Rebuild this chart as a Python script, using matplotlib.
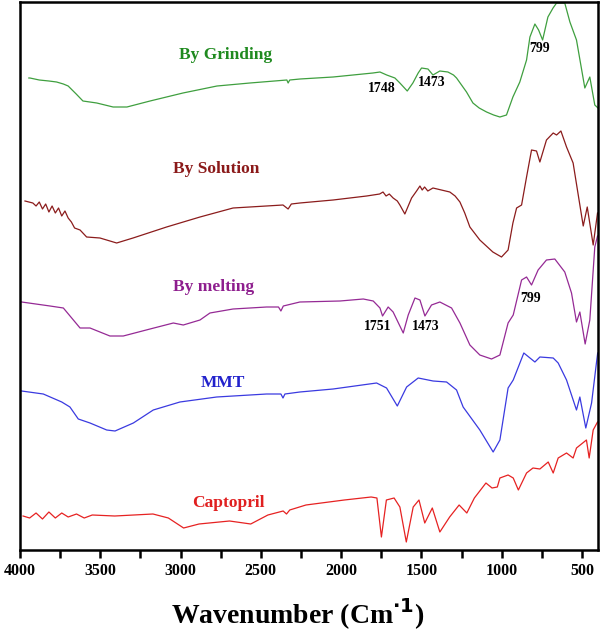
import matplotlib
matplotlib.use("Agg")
import matplotlib.pyplot as plt

# ---- data (wavenumber cm^-1, transmittance in arbitrary stacked units) ----
grind_w = [3945, 3938, 3880, 3820, 3772, 3730, 3700, 3650, 3608, 3522, 3420, 3334, 3190, 2985, 2773, 2568,
           2338, 2330, 2320, 2256, 2050, 1802, 1758, 1716, 1665, 1634, 1588, 1553, 1520, 1499, 1459, 1428,
           1385, 1335, 1300, 1281, 1250, 1219, 1179, 1140, 1094, 1050, 1011, 970, 930, 887, 845, 824, 793,
           770, 745, 712, 680, 658, 607, 575, 534, 482, 451, 420, 400]
grind_t = [470, 470, 468, 467, 466, 464, 462, 454, 447, 445, 441, 441, 447, 455, 462, 465,
           468, 465, 468, 469, 471, 475, 476, 473, 470, 465, 457, 465, 475, 480, 479, 473,
           477, 476, 473, 470, 463, 456, 445, 440, 436, 433, 431, 433, 451, 466, 488, 511, 524,
           518, 508, 531, 540, 545, 545, 526, 508, 460, 471, 443, 440]

sol_w = [3969, 3920, 3900, 3880, 3860, 3840, 3820, 3800, 3780, 3760, 3740, 3720, 3700, 3680, 3660, 3626, 3585,
         3502, 3398, 3296, 3087, 2879, 2673, 2362, 2330, 2310, 2257, 2050, 1841, 1760, 1739, 1720, 1700, 1676,
         1650, 1634, 1603, 1561, 1530, 1509, 1495, 1480, 1460, 1428, 1323, 1290, 1260, 1230, 1198, 1136, 1055,
         1001, 960, 930, 907, 876, 845, 814, 783, 762, 721, 679, 658, 631, 596, 555, 492, 467, 430, 403]
sol_t = [347, 345, 342, 346, 339, 344, 336, 342, 335, 340, 332, 337, 330, 326, 320, 318, 311,
         310, 305, 310, 321, 331, 340, 343, 339, 344, 345, 348, 352, 354, 356, 352, 354, 350,
         347, 343, 334, 350, 357, 362, 358, 361, 357, 360, 356, 352, 346, 335, 321, 308, 296,
         291, 298, 325, 340, 343, 371, 398, 397, 386, 408, 415, 413, 417, 401, 385, 322, 341, 303, 335]

melt_w = [3990, 3813, 3730, 3678, 3626, 3564, 3440, 3357, 3190, 3045, 2983, 2879, 2817, 2673, 2464, 2390,
          2375, 2360, 2257, 2007, 1862, 1800, 1758, 1742, 1707, 1676, 1613, 1582, 1540, 1509, 1478, 1437,
          1385, 1312, 1260, 1198, 1136, 1063, 1011, 960, 928, 876, 845, 814, 773, 721, 669, 607, 565,
          534, 513, 480, 451, 420, 403]
melt_t = [246, 242, 240, 230, 220, 220, 212, 212, 219, 225, 223, 228, 235, 239, 241, 241,
          237, 242, 246, 247, 249, 247, 240, 232, 241, 236, 215, 233, 250, 248, 232, 243,
          246, 240, 225, 203, 193, 189, 193, 225, 233, 268, 271, 263, 278, 288, 289, 276, 255,
          226, 236, 204, 228, 301, 312]

mmt_w = [3990, 3855, 3740, 3689, 3637, 3564, 3460, 3408, 3294, 3170, 3004, 2775, 2464, 2375, 2362, 2350,
         2257, 2050, 1779, 1717, 1650, 1592, 1520, 1427, 1343, 1281, 1240, 1136, 1053, 1011, 960, 928,
         862, 793, 762, 679, 648, 596, 534, 513, 476, 440, 409, 402]
mmt_t = [157, 154, 146, 141, 129, 125, 118, 117, 125, 138, 146, 151, 154, 154, 150, 154,
         156, 159, 165, 160, 142, 161, 170, 167, 166, 158, 141, 118, 96, 108, 160, 168,
         195, 186, 191, 190, 185, 168, 138, 151, 120, 145, 186, 195]

capt_w = [3981, 3940, 3900, 3860, 3820, 3780, 3740, 3700, 3648, 3600, 3550, 3410, 3172, 3076, 2981, 2885,
          2695, 2563, 2456, 2361, 2340, 2320, 2219, 1980, 1813, 1777, 1749, 1718, 1670, 1634, 1594, 1551,
          1515, 1479, 1432, 1385, 1324, 1265, 1217, 1170, 1098, 1060, 1027, 1011, 960, 928, 896, 845, 805,
          762, 710, 679, 648, 596, 555, 534, 472, 455, 430, 403]
capt_t = [32, 30, 35, 29, 36, 30, 35, 31, 34, 30, 33, 32, 34, 30, 20, 24,
          27, 24, 33, 37, 34, 38, 43, 48, 51, 50, 11, 48, 50, 41, 6, 41,
          48, 25, 40, 16, 31, 43, 35, 50, 65, 60, 61, 70, 73, 70, 58, 75, 80,
          79, 86, 75, 90, 95, 90, 100, 108, 90, 118, 126]

series = [
    (grind_w, grind_t, "#3f9f3f"),
    (sol_w, sol_t, "#8b1c1c"),
    (melt_w, melt_t, "#952a95"),
    (mmt_w, mmt_t, "#3a3ae0"),
    (capt_w, capt_t, "#e62222"),
]

labels = [
    ("By Grinding", 2717, 493, "#1f8a1f"),
    ("By Solution", 2780, 379, "#8b1a1a"),
    ("By melting", 2792, 261, "#8e1e8e"),
    ("MMT", 2736, 165, "#2222cc"),
    ("Captopril", 2705, 45, "#e02020"),
]

peak_notes = [
    ("1748", 1745, 460), ("1473", 1435, 465), ("799", 765, 499),
    ("1751", 1770, 222), ("1473", 1470, 222), ("799", 820, 250),
]

ticks = [4000, 3500, 3000, 2500, 2000, 1500, 1000, 500]

fig = plt.figure(figsize=(6.0, 6.31), dpi=100)
ax = fig.add_axes([20 / 600, (631 - 550) / 631, 578 / 600, 548 / 631])

for w, t, c in series:
    ax.plot(w, t, color=c, lw=0.9)

for txt, x, y, c in labels:
    ax.text(x, y, txt, color=c, fontsize=12.5, fontweight="bold",
            family="Liberation Serif", ha="center", va="center")

for txt, x, y in peak_notes:
    ax.text(x, y, txt, color="black", fontsize=10, fontweight="bold",
            family="Liberation Serif", ha="center", va="center")

ax.set_xlim(4000, 400)
ax.set_ylim(-2, 546)
ax.set_xticks(ticks)
ax.set_xticks(range(3750, 400, -500), minor=True)
ax.set_yticks([])
ax.tick_params(axis="x", which="both", direction="out", length=6, width=1.8)
for lab in ax.get_xticklabels():
    lab.set_fontfamily("Liberation Serif")
    lab.set_fontweight("bold")
    lab.set_fontsize(11.5)
for s in ax.spines.values():
    s.set_linewidth(1.8)

ax.set_xlabel(r"Wavenumber (Cm$^{\mathbf{\cdot 1}}$)", fontsize=20, fontweight="bold",
              family="Liberation Serif", labelpad=8)
ax.xaxis.set_label_coords(0.48, -0.085)

fig.savefig("out.png", dpi=100)
